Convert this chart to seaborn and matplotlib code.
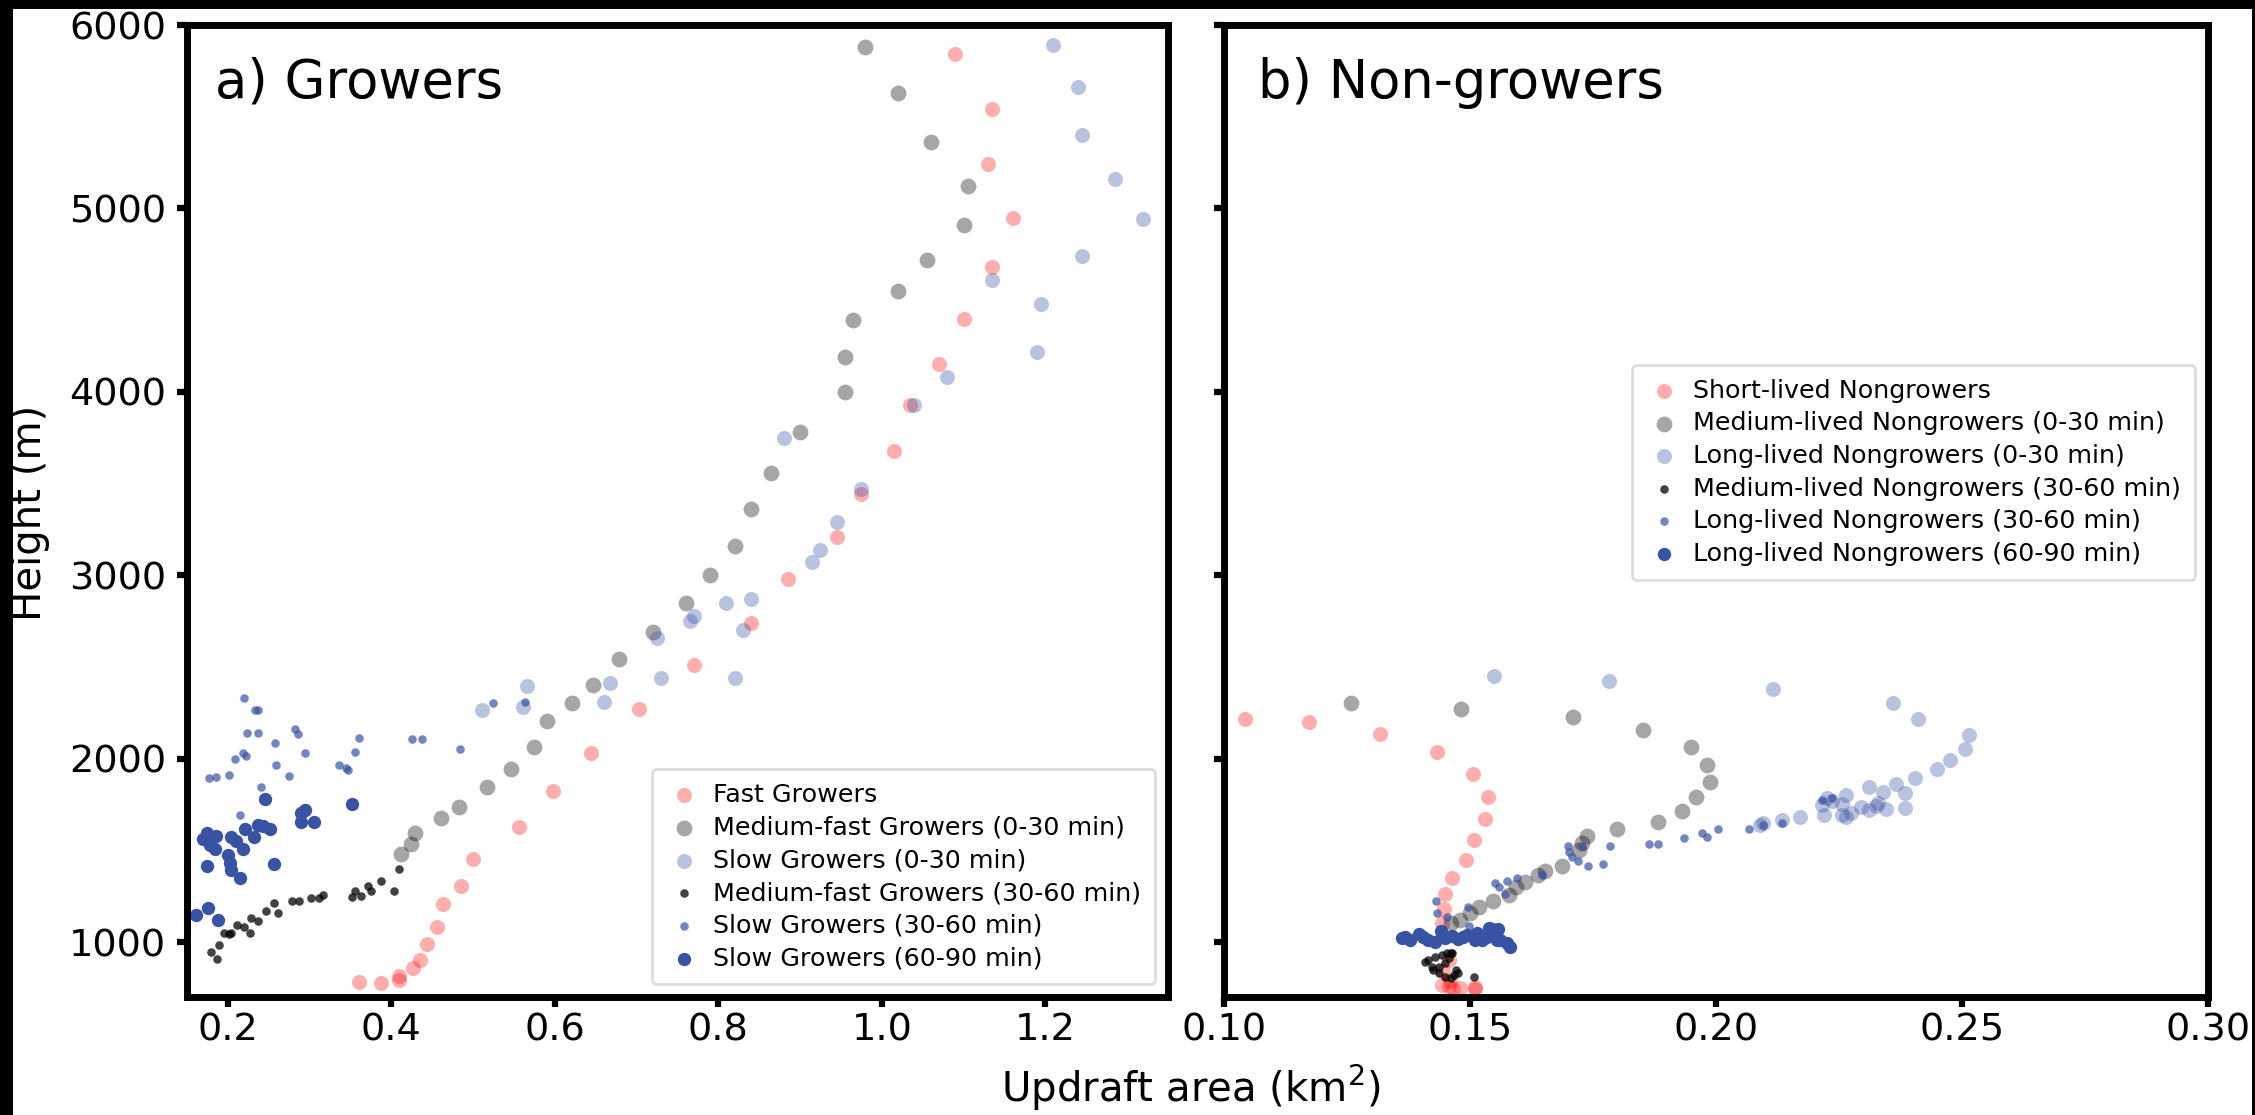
import matplotlib
matplotlib.use("Agg")
import matplotlib.pyplot as plt
from matplotlib.patches import Rectangle
import pandas as pd
import seaborn as sns

# ---------------- a) Growers ----------------
fast_x = [1.09, 1.135, 1.13, 1.16, 1.135, 1.10, 1.07, 1.035, 1.015, 0.975, 0.945, 0.885, 0.84, 0.77,
          0.703, 0.644, 0.598, 0.556, 0.50, 0.485, 0.463, 0.456, 0.444, 0.435, 0.426, 0.41, 0.41, 0.387, 0.36]
fast_y = [5840, 5540, 5240, 4950, 4680, 4400, 4150, 3930, 3680, 3445, 3210, 2980, 2740, 2510,
          2268, 2032, 1823, 1628, 1452, 1307, 1207, 1080, 987, 902, 857, 815, 793, 775, 780]

medfast_x = [0.98, 1.02, 1.06, 1.105, 1.10, 1.055, 1.02, 0.965, 0.955, 0.955, 0.90, 0.865, 0.84, 0.82,
             0.79, 0.76, 0.72, 0.679, 0.647, 0.621, 0.591, 0.575, 0.546, 0.517, 0.483, 0.461, 0.429,
             0.424, 0.412]
medfast_y = [5880, 5630, 5360, 5120, 4910, 4720, 4550, 4390, 4190, 4000, 3780, 3560, 3360, 3160,
             3000, 2850, 2690, 2546, 2400, 2304, 2206, 2064, 1943, 1845, 1734, 1676, 1592,
             1532, 1481]

slow_x = [1.21, 1.24, 1.245, 1.285, 1.32, 1.245, 1.135, 1.195, 1.19, 1.08, 1.04, 0.88, 0.975, 0.945,
          0.925, 0.915, 0.84, 0.81, 0.77, 0.765, 0.83, 0.725, 0.73, 0.82, 0.667, 0.66, 0.566, 0.561,
          0.511]
slow_y = [5890, 5660, 5400, 5160, 4940, 4740, 4610, 4480, 4215, 4080, 3930, 3750, 3470, 3290,
          3140, 3070, 2870, 2850, 2780, 2750, 2700, 2660, 2440, 2440, 2410, 2310, 2397, 2279,
          2264]

medfast2_x = [0.180, 0.187, 0.189, 0.195, 0.201, 0.204, 0.211, 0.220, 0.227, 0.228, 0.237, 0.247,
              0.256, 0.261, 0.278, 0.287, 0.302, 0.312, 0.317, 0.352, 0.356, 0.363, 0.371, 0.375,
              0.387, 0.403, 0.41]
medfast2_y = [944, 906, 984, 1051, 1044, 1051, 1093, 1084, 1047, 1129, 1116, 1171,
              1211, 1160, 1225, 1225, 1241, 1238, 1256, 1244, 1280, 1252, 1305, 1280,
              1332, 1278, 1398]

slow2_x = [0.220, 0.233, 0.237, 0.224, 0.237, 0.282, 0.286, 0.258, 0.219, 0.222, 0.209, 0.294,
           0.259, 0.177, 0.186, 0.202, 0.275, 0.241, 0.215, 0.336, 0.344, 0.347, 0.355, 0.361,
           0.425, 0.438, 0.484, 0.524, 0.563]
slow2_y = [2331, 2264, 2264, 2141, 2141, 2159, 2133, 2083, 2032, 2017, 1996, 2028,
           1963, 1895, 1901, 1912, 1906, 1848, 1692, 1965, 1947, 1937, 2034, 2112,
           2106, 2108, 2053, 2304, 2310]

slow3_x = [0.246, 0.352, 0.289, 0.295, 0.290, 0.306, 0.237, 0.243, 0.251, 0.232, 0.221, 0.174,
           0.170, 0.186, 0.204, 0.210, 0.178, 0.184, 0.218, 0.200, 0.203, 0.204, 0.215, 0.174,
           0.257, 0.161, 0.176, 0.188]
slow3_y = [1778, 1750, 1705, 1719, 1656, 1654, 1638, 1632, 1614, 1574, 1614, 1592,
           1561, 1578, 1571, 1552, 1529, 1505, 1505, 1474, 1429, 1392, 1347, 1414,
           1423, 1147, 1184, 1120]

# ---------------- b) Non-growers ----------------
short_x = [0.1042, 0.1172, 0.1318, 0.1433, 0.1506, 0.1536, 0.1531, 0.1509, 0.1491, 0.1464, 0.145,
           0.1447, 0.1443, 0.1457, 0.1445, 0.146, 0.1443, 0.1457, 0.1479, 0.1511, 0.1465, 0.151]
short_y = [2215, 2201, 2137, 2035, 1916, 1789, 1669, 1554, 1447, 1350, 1260,
           1178, 1102, 902, 840, 790, 766, 757, 748, 757, 745, 745]

medlived_x = [0.1258, 0.1482, 0.1709, 0.1851, 0.1949, 0.1981, 0.1987, 0.196, 0.193, 0.1881, 0.1799,
              0.1738, 0.1728, 0.1721, 0.1686, 0.1653, 0.1639, 0.1611, 0.1593, 0.1579, 0.1547,
              0.1518, 0.150, 0.1479, 0.1461]
medlived_y = [2301, 2268, 2228, 2155, 2064, 1966, 1870, 1789, 1714, 1656, 1614,
              1578, 1541, 1501, 1416, 1389, 1363, 1329, 1301, 1256, 1225,
              1189, 1156, 1120, 1102]

longlived_x = [0.1549, 0.1783, 0.2115, 0.236, 0.241, 0.2515, 0.2505, 0.2475, 0.245, 0.2405, 0.2365,
               0.234, 0.231, 0.2385, 0.2265, 0.2225, 0.2235, 0.2215, 0.2255, 0.2295, 0.2325, 0.2345,
               0.231, 0.2275, 0.2255, 0.222, 0.217, 0.2135, 0.2095, 0.209, 0.2265, 0.233, 0.2385]
longlived_y = [2450, 2422, 2380, 2305, 2215, 2130, 2050, 1995, 1945, 1895, 1860,
               1820, 1845, 1810, 1800, 1785, 1770, 1745, 1750, 1735, 1740, 1725,
               1720, 1705, 1690, 1690, 1680, 1665, 1650, 1640, 1680, 1760, 1730]

medlived2_x = [0.1464, 0.1454, 0.1443, 0.1429, 0.1415, 0.1408, 0.1422, 0.1436, 0.145, 0.1425,
               0.1436, 0.145, 0.1461, 0.1472, 0.1468, 0.1475, 0.1509, 0.1461, 0.1457]
medlived2_y = [942, 938, 929, 920, 902, 893, 866, 866, 884, 847,
               829, 811, 802, 847, 820, 829, 811, 938, 911]

longlived2_x = [0.143, 0.1433, 0.1454, 0.1495, 0.1497, 0.155, 0.1559, 0.1572, 0.1575, 0.1595, 0.1646,
                0.170, 0.1702, 0.1707, 0.1728, 0.172, 0.1739, 0.1771, 0.1784, 0.1864, 0.1881, 0.1935,
                0.1972, 0.1981, 0.2003, 0.2067, 0.2095, 0.2135, 0.2215, 0.2235]
longlived2_y = [1225, 1160, 1138, 1192, 1087, 1320, 1298, 1262, 1332, 1350, 1365,
                1523, 1492, 1461, 1523, 1443, 1414, 1423, 1523, 1532, 1532, 1565,
                1596, 1570, 1614, 1614, 1640, 1650, 1775, 1785]

longlived3_x = [0.1361, 0.1379, 0.1397, 0.1415, 0.1429, 0.1443, 0.145, 0.1464, 0.1475, 0.1493, 0.1514,
                0.1525, 0.1539, 0.1547, 0.1557, 0.1561, 0.1575, 0.1582, 0.1368, 0.1405, 0.1485,
                0.151, 0.1535, 0.1555, 0.1545, 0.144]
longlived3_y = [1020, 1011, 1044, 1011, 1002, 1038, 1020, 1033, 1015, 1038, 1047,
                1011, 1075, 1047, 1069, 1011, 996, 971, 1025, 1030, 1025,
                1010, 1030, 1010, 1070, 1060]

# colours
RED = "red"
BLK = "black"
BLUE = "#3953a4"

sns.set_style("ticks")
plt.rcParams["font.family"] = ["DejaVu Sans"]
plt.rcParams["text.color"] = "black"
plt.rcParams["axes.labelcolor"] = "black"
plt.rcParams["xtick.color"] = "black"
plt.rcParams["ytick.color"] = "black"
plt.rcParams["axes.edgecolor"] = "black"

fig = plt.figure(figsize=(22.55, 11.15), dpi=100)
fig.patch.set_facecolor("white")
ax1 = fig.add_axes([0.0829, 0.1058, 0.4350, 0.8717])
ax2 = fig.add_axes([0.5428, 0.1058, 0.4364, 0.8717], sharey=ax1)


def scatter(ax, x, y, color, alpha, s, label):
    df = pd.DataFrame({"x": x, "y": y})
    sns.scatterplot(data=df, x="x", y="y", ax=ax, color=color, alpha=alpha, s=s,
                    linewidth=0, label=label)


scatter(ax1, fast_x, fast_y, RED, 0.32, 117, "Fast Growers")
scatter(ax1, medfast_x, medfast_y, BLK, 0.35, 130, "Medium-fast Growers (0-30 min)")
scatter(ax1, slow_x, slow_y, BLUE, 0.35, 117, "Slow Growers (0-30 min)")
scatter(ax1, medfast2_x, medfast2_y, BLK, 0.74, 38, "Medium-fast Growers (30-60 min)")
scatter(ax1, slow2_x, slow2_y, BLUE, 0.7, 38, "Slow Growers (30-60 min)")
scatter(ax1, slow3_x, slow3_y, BLUE, 1.0, 92, "Slow Growers (60-90 min)")

scatter(ax2, short_x, short_y, RED, 0.32, 117, "Short-lived Nongrowers")
scatter(ax2, medlived_x, medlived_y, BLK, 0.35, 130, "Medium-lived Nongrowers (0-30 min)")
scatter(ax2, longlived_x, longlived_y, BLUE, 0.35, 117, "Long-lived Nongrowers (0-30 min)")
scatter(ax2, medlived2_x, medlived2_y, BLK, 0.74, 38, "Medium-lived Nongrowers (30-60 min)")
scatter(ax2, longlived2_x, longlived2_y, BLUE, 0.7, 38, "Long-lived Nongrowers (30-60 min)")
scatter(ax2, longlived3_x, longlived3_y, BLUE, 1.0, 92, "Long-lived Nongrowers (60-90 min)")

ax1.set_xlim(0.15, 1.35)
ax1.set_ylim(700, 6000)
ax1.set_xticks([0.2, 0.4, 0.6, 0.8, 1.0, 1.2])
ax1.set_yticks([1000, 2000, 3000, 4000, 5000, 6000])
ax2.set_xlim(0.10, 0.30)
ax2.set_xticks([0.10, 0.15, 0.20, 0.25, 0.30])
ax2.set_xticklabels(["0.10", "0.15", "0.20", "0.25", "0.30"])

for ax in (ax1, ax2):
    ax.set_xlabel("")
    ax.set_ylabel("")
    for sp in ax.spines.values():
        sp.set_visible(True)
        sp.set_linewidth(5)
        sp.set_color("black")
    ax.tick_params(axis="both", which="major", length=7, width=4.5, labelsize=27.5,
                   color="black", labelcolor="black")
    ax.tick_params(axis="x", pad=4)
    ax.tick_params(axis="y", pad=8)
ax2.tick_params(axis="y", labelleft=False)

leg_kw = dict(fontsize=18.3, handlelength=1.4, handletextpad=0.45, labelspacing=0.34,
              borderpad=0.55, frameon=True, labelcolor="black")
leg1 = ax1.legend(loc="lower right", **leg_kw)
leg2 = ax2.legend(loc="center right", bbox_to_anchor=(1.0, 0.54), **leg_kw)
for leg in (leg1, leg2):
    leg.get_frame().set_linewidth(2)
    leg.get_frame().set_edgecolor("#d5d5d5")

ax1.text(0.029, 0.925, "a) Growers", transform=ax1.transAxes, fontsize=38, va="baseline",
         color="black")
ax2.text(0.035, 0.925, "b) Non-growers", transform=ax2.transAxes, fontsize=38, va="baseline",
         color="black")

fig.text(0.528, 0.024, "Updraft area (km$^2$)", ha="center", va="center", fontsize=29,
         color="black")
fig.text(0.0133, 0.54, "Height (m)", ha="center", va="center", rotation=90, fontsize=29,
         color="black")

# dark bands around the edges of the original image
for (x0, y0, w, h) in [(0, 1 - 9 / 1115, 1, 9 / 1115), (0, 0, 13 / 2255, 1),
                       (2252 / 2255, 0, 3 / 2255, 1)]:
    fig.add_artist(Rectangle((x0, y0), w, h, transform=fig.transFigure,
                             facecolor="black", edgecolor="none", zorder=10))

fig.savefig("out.png", dpi=100)
